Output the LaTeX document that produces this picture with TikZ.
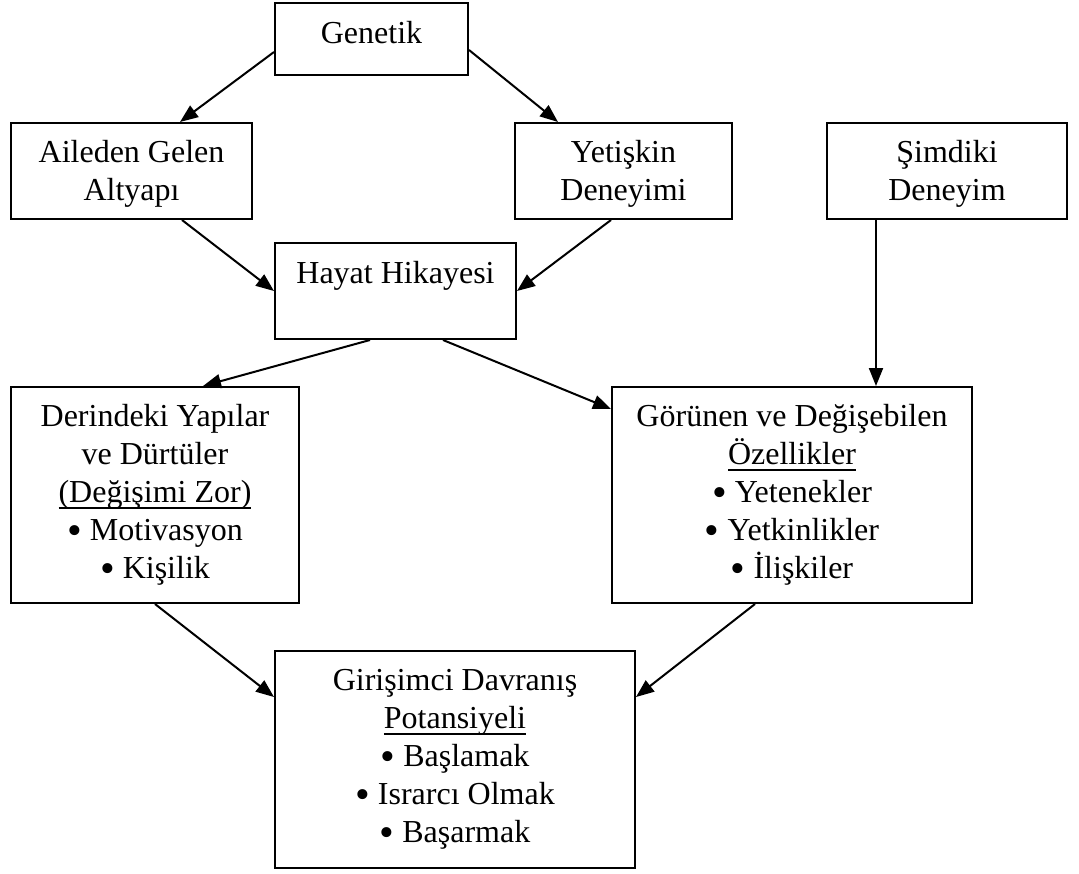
\documentclass[tikz,border=0pt]{standalone}
\usepackage{fontspec}
\setmainfont{Liberation Serif}
\usetikzlibrary{arrows.meta}
% underline drawn a fixed distance below the baseline
\newcommand{\ulbox}[1]{\setbox0\hbox{#1}\rlap{\rule[-6.5pt]{\wd0}{1.8pt}}\box0}
% larger list bullet
\newcommand{\bul}{{\fontsize{42}{38}\selectfont\raisebox{-3.5pt}{•}}}
% extra head room on a first line
\newcommand{\headroom}{\rule{0pt}{28pt}}
\begin{document}
\begin{tikzpicture}[x=1pt,y=-1pt,
  box/.style={draw, line width=2pt, inner sep=0pt, align=center,
    font=\fontsize{32}{38}\selectfont},
  arr/.style={line width=2pt, -{Triangle[length=18pt,width=14pt]}}]
\useasboundingbox (0,0) rectangle (1079,873);

% boxes
\node[draw, line width=2pt, inner sep=0pt, font=\fontsize{32}{38}\selectfont,
  minimum width=193pt, minimum height=72pt, text depth=14pt] (gen) at (371.5,39) {Genetik};
\node[box, minimum width=241pt, minimum height=96pt] (ail) at (131.5,171) {\headroom Aileden Gelen\\Altyapı};
\node[box, minimum width=217pt, minimum height=96pt] (yet) at (623.5,171) {\headroom Yetişkin\\Deneyimi};
\node[box, minimum width=240pt, minimum height=96pt] (sim) at (947,171) {\headroom Şimdiki\\Deneyim};
\node[box, minimum width=241pt, minimum height=96pt] (hay) at (395.5,291) {Hayat Hikayesi\\\mbox{}};
\node[box, minimum width=288pt, minimum height=216pt] (der) at (155,495)
  {Derindeki Yapılar\\ve Dürtüler\\\ulbox{(Değişimi Zor)}\\\bul{} Motivasyon\\\bul{} Kişilik};
\node[box, minimum width=360pt, minimum height=216pt] (gor) at (792,495)
  {Görünen ve Değişebilen\\\ulbox{Özellikler}\\\bul{} Yetenekler\\\bul{} Yetkinlikler\\\bul{} İlişkiler};
\node[box, minimum width=360pt, minimum height=217pt] (gir) at (455,759.5)
  {Girişimci Davranış\\\ulbox{Potansiyeli}\\\bul{} Başlamak\\\bul{} Israrcı Olmak\\\bul{} Başarmak};

% connectors
\draw[arr] ([yshift=-13pt]gen.west) -- ([xshift=48.5pt]ail.north);
\draw[arr] ([yshift=-11pt]gen.east) -- ([xshift=-65.5pt]yet.north);
\draw[arr] ([xshift=50.5pt]ail.south) -- (hay.west);
\draw[arr] ([xshift=-12.5pt]yet.south) -- (hay.east);
\draw[arr] ([xshift=-25.5pt]hay.south) -- ([xshift=48pt]der.north);
\draw[arr] ([xshift=47.5pt]hay.south) -- ([yshift=-23pt]gor.north west);
\draw[arr] ([xshift=-71pt]sim.south) coordinate (s1) -- (s1 |- gor.north);
\draw[arr] (der.south) -- ([yshift=-47pt]gir.north west);
\draw[arr] ([xshift=-37pt]gor.south) -- ([yshift=-47pt]gir.north east);
\end{tikzpicture}
\end{document}
